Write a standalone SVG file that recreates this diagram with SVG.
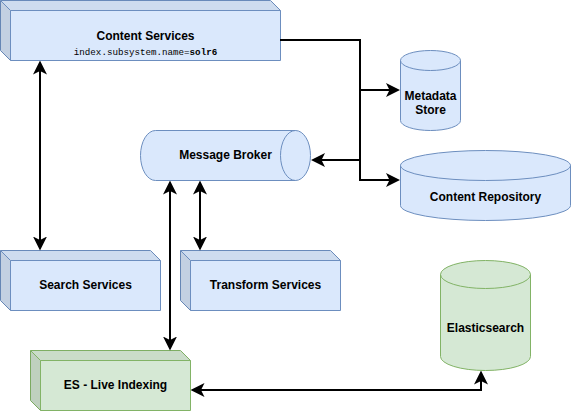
<svg xmlns="http://www.w3.org/2000/svg" width="571" height="411" viewBox="0 0 571 411">
  <style>
    .blue { fill:#dae8fc; stroke:#6c8ebf; stroke-width:1; }
    .green { fill:#d5e8d4; stroke:#82b366; stroke-width:1; }
    .edgeb { fill:none; stroke:#6c8ebf; stroke-width:1; }
    .edgeg { fill:none; stroke:#82b366; stroke-width:1; }
    .sh1 { fill:#000; fill-opacity:0.05; stroke:none; }
    .sh2 { fill:#000; fill-opacity:0.1; stroke:none; }
    .lbl { font-family:"Liberation Sans", Arial, sans-serif; font-size:12px; font-weight:bold; fill:#000; text-anchor:middle; }
    .mono { font-family:"Liberation Mono", "Courier New", monospace; font-size:9.2px; fill:#000; text-anchor:middle; }
    .conn { fill:none; stroke:#000; stroke-width:2; }
  </style>
  <defs>
    <marker id="ah" viewBox="0 0 14 14" markerWidth="14" markerHeight="14" refX="10" refY="7" orient="auto-start-reverse" markerUnits="userSpaceOnUse">
      <path d="M0,0 L14,7 L0,14 L3.5,7 Z" fill="#000"/>
    </marker>
  </defs>

  <g id="content-services">
    <path class="blue" d="M0.5,0.5 H270.5 L280.5,10.5 V60.5 H10.5 L0.5,50.5 Z"/>
    <path class="sh1" d="M0.5,0.5 H270.5 L280.5,10.5 H10.5 Z"/>
    <path class="sh2" d="M0.5,0.5 L10.5,10.5 V60.5 L0.5,50.5 Z"/>
    <path class="edgeb" d="M0.5,0.5 L10.5,10.5 H280.5 M10.5,10.5 V60.5"/>
    <text class="lbl" x="145.5" y="39.5">Content Services</text>
    <text class="mono" x="145.5" y="55">index.subsystem.name=<tspan font-weight="bold">solr6</tspan></text>
  </g>

  <g id="metadata-store">
    <path class="blue" d="M400.5,60.5 A30,10 0 0 1 460.5,60.5 V120.5 A30,10 0 0 1 400.5,120.5 Z"/>
    <path class="edgeb" d="M400.5,60.5 A30,10 0 0 0 460.5,60.5"/>
    <text class="lbl" x="430.5" y="100">Metadata</text>
    <text class="lbl" x="430.5" y="114">Store</text>
  </g>

  <g id="content-repository">
    <path class="blue" d="M400.5,165.5 A85,15 0 0 1 570.5,165.5 V205.5 A85,15 0 0 1 400.5,205.5 Z"/>
    <path class="edgeb" d="M400.5,165.5 A85,15 0 0 0 570.5,165.5"/>
    <text class="lbl" x="485.5" y="201">Content Repository</text>
  </g>

  <g id="message-broker">
    <path class="blue" d="M155.5,130.5 H295.5 A15,25 0 0 1 295.5,180.5 H155.5 A15,25 0 0 1 155.5,130.5 Z"/>
    <path class="edgeb" d="M295.5,130.5 A15,25 0 0 0 295.5,180.5"/>
    <text class="lbl" x="225.5" y="158.5">Message Broker</text>
  </g>

  <g id="search-services">
    <path class="blue" d="M0.5,250.5 H150.5 L160.5,260.5 V310.5 H10.5 L0.5,300.5 Z"/>
    <path class="sh1" d="M0.5,250.5 H150.5 L160.5,260.5 H10.5 Z"/>
    <path class="sh2" d="M0.5,250.5 L10.5,260.5 V310.5 L0.5,300.5 Z"/>
    <path class="edgeb" d="M0.5,250.5 L10.5,260.5 H160.5 M10.5,260.5 V310.5"/>
    <text class="lbl" x="85.5" y="288.5">Search Services</text>
  </g>

  <g id="transform-services">
    <path class="blue" d="M180.5,250.5 H330.5 L340.5,260.5 V310.5 H190.5 L180.5,300.5 Z"/>
    <path class="sh1" d="M180.5,250.5 H330.5 L340.5,260.5 H190.5 Z"/>
    <path class="sh2" d="M180.5,250.5 L190.5,260.5 V310.5 L180.5,300.5 Z"/>
    <path class="edgeb" d="M180.5,250.5 L190.5,260.5 H340.5 M190.5,260.5 V310.5"/>
    <text class="lbl" x="265.5" y="288.5">Transform Services</text>
  </g>

  <g id="es-live-indexing">
    <path class="green" d="M30.5,350.5 H180.5 L190.5,360.5 V410.5 H40.5 L30.5,400.5 Z"/>
    <path class="sh1" d="M30.5,350.5 H180.5 L190.5,360.5 H40.5 Z"/>
    <path class="sh2" d="M30.5,350.5 L40.5,360.5 V410.5 L30.5,400.5 Z"/>
    <path class="edgeg" d="M30.5,350.5 L40.5,360.5 H190.5 M40.5,360.5 V410.5"/>
    <text class="lbl" x="115.5" y="389">ES - Live Indexing</text>
  </g>

  <g id="elasticsearch">
    <path class="green" d="M440.5,274.5 A45,14 0 0 1 530.5,274.5 V356.5 A45,14 0 0 1 440.5,356.5 Z"/>
    <path class="edgeg" d="M440.5,274.5 A45,14 0 0 0 530.5,274.5"/>
    <text class="lbl" x="485.5" y="331.5">Elasticsearch</text>
  </g>

  <g id="connectors">
    <path class="conn" d="M280,40 H360 V90 H396" marker-end="url(#ah)"/>
    <path class="conn" d="M280,40 H360 V160 H315" marker-end="url(#ah)"/>
    <path class="conn" d="M280,40 H360 V180 H396" marker-end="url(#ah)"/>
    <path class="conn" d="M40,64.5 V246.5" marker-start="url(#ah)" marker-end="url(#ah)"/>
    <path class="conn" d="M170,184.5 V346.5" marker-start="url(#ah)" marker-end="url(#ah)"/>
    <path class="conn" d="M200,184.5 V246.5" marker-start="url(#ah)" marker-end="url(#ah)"/>
    <path class="conn" d="M194.5,390 H481 V374.5" marker-start="url(#ah)" marker-end="url(#ah)"/>
  </g>
</svg>
